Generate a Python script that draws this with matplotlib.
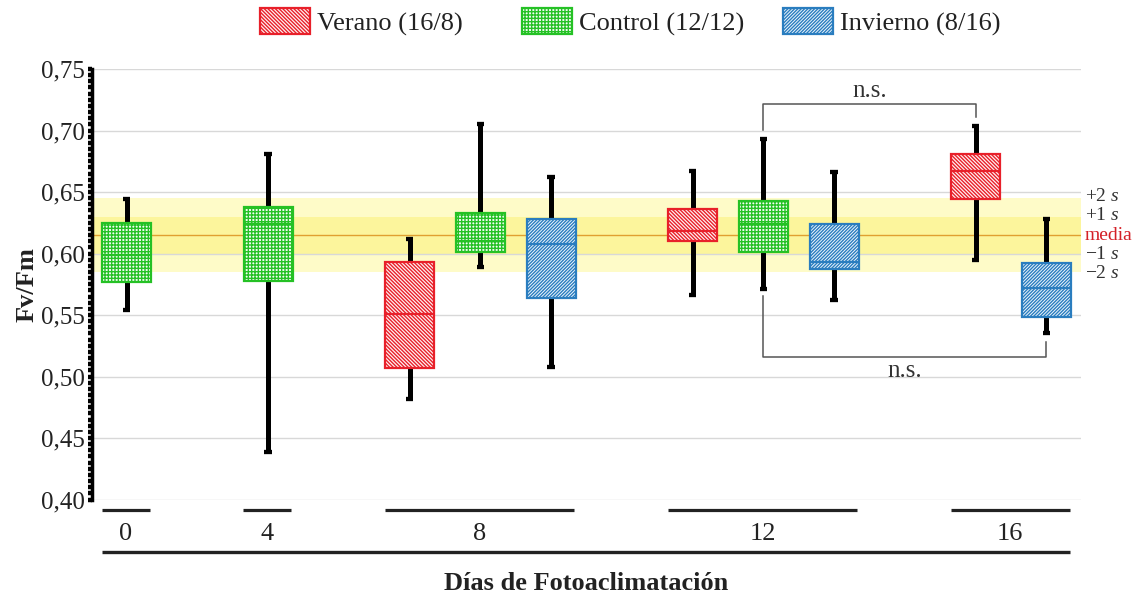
import matplotlib
matplotlib.use("Agg")
import matplotlib.pyplot as plt
from matplotlib.patches import Patch
from matplotlib.ticker import MultipleLocator, FuncFormatter
import matplotlib.transforms as mtransforms

# ---------------- data ----------------
days = ["0", "4", "8", "12", "16"]
treatments = ["Verano (16/8)", "Control (12/12)", "Invierno (8/16)"]
# treatments present for each day (index into treatments)
day_treatments = [[1], [1], [0, 1, 2], [0, 1, 2], [0, 2]]

# box statistics, in the order of the boxes (day by day, treatment by treatment)
whis_lo = [0.554, 0.439, 0.482, 0.589, 0.508, 0.566, 0.571, 0.562, 0.595, 0.535]
q1      = [0.577, 0.578, 0.507, 0.601, 0.564, 0.610, 0.601, 0.587, 0.644, 0.548]
median  = [0.599, 0.624, 0.551, 0.610, 0.608, 0.618, 0.624, 0.593, 0.667, 0.572]
q3      = [0.625, 0.638, 0.593, 0.633, 0.628, 0.636, 0.643, 0.624, 0.681, 0.592]
whis_hi = [0.644, 0.681, 0.612, 0.705, 0.662, 0.667, 0.693, 0.666, 0.704, 0.628]

ref_mean = 0.615
ref_sd = 0.015
yticks = [0.40, 0.45, 0.50, 0.55, 0.60, 0.65, 0.70, 0.75]

# ---------------- style ----------------
plt.rcParams["font.family"] = ["Liberation Serif", "DejaVu Serif"]
plt.rcParams["mathtext.fontset"] = "custom"
plt.rcParams["mathtext.rm"] = "Liberation Serif"
plt.rcParams["mathtext.it"] = "Liberation Serif:italic"
plt.rcParams["hatch.linewidth"] = 1.0

edge_cols = ["#e8202a", "#25c125", "#2a7dbf"]
face_cols = ["#fff2f2", "#f4fdf4", "#eef6fc"]
hatches = ["\\" * 9, "+++++", "/" * 10]

fig = plt.figure(figsize=(11.43, 5.98), dpi=100)
W, H = 1143, 598
ax_l, ax_r, ax_t, ax_b = 92, 1081, 69, 499.5
ax = fig.add_axes([ax_l / W, 1 - ax_b / H, (ax_r - ax_l) / W, (ax_b - ax_t) / H])

# positions: one empty slot between day groups
positions, box_treat, group_spans = [], [], []
slot = 0
for d, trs in zip(days, day_treatments):
    start = slot
    for t in trs:
        positions.append(slot)
        box_treat.append(t)
        slot += 1
    group_spans.append((start, slot - 1))
    slot += 1

# reference band
ax.axhspan(ref_mean - 2 * ref_sd, ref_mean + 2 * ref_sd, color="#fefbc8", zorder=0, lw=0)
ax.axhspan(ref_mean - ref_sd, ref_mean + ref_sd, color="#fcf59c", zorder=0.1, lw=0)
ax.axhline(ref_mean, color="#e0a030", lw=1.0, zorder=0.6)

ax.set_yticks(yticks)
ax.yaxis.grid(True, color="#d8d8d8", lw=1.0, zorder=0.5)
ax.set_axisbelow(True)

stats = []
for i in range(len(positions)):
    stats.append(dict(med=median[i], q1=q1[i], q3=q3[i], whislo=whis_lo[i], whishi=whis_hi[i]))

bp = ax.bxp(stats, positions=positions, widths=0.69, patch_artist=True, showfliers=False,
            capwidths=0.105,
            whiskerprops=dict(color="black", lw=3.6, solid_capstyle="butt"),
            capprops=dict(color="black", lw=3.1, solid_capstyle="butt"),
            boxprops=dict(lw=1.6), medianprops=dict(lw=1.6))
for i, b in enumerate(bp["boxes"]):
    t = box_treat[i]
    b.set_facecolor(face_cols[t])
    b.set_edgecolor(edge_cols[t])
    b.set_hatch(hatches[t])
    b.set_zorder(3)
    bp["medians"][i].set_color(edge_cols[t])
    bp["medians"][i].set_zorder(3.5)

ax.set_xlim(-0.49, 13.49)
ax.set_ylim(0.40, 0.75)

# axes styling
for s in ["top", "right", "bottom"]:
    ax.spines[s].set_visible(False)
ax.spines["left"].set_linewidth(2.5)
ax.spines["left"].set_color("black")
ax.set_xticks([])
ax.yaxis.set_minor_locator(MultipleLocator(0.005))
ax.tick_params(axis="y", which="minor", length=2.6, width=3.2, color="black", direction="out")
ax.tick_params(axis="y", which="major", length=3.2, width=3.2, color="black", direction="out",
               labelsize=18, pad=2, labelcolor="#222222")
ax.yaxis.set_major_formatter(FuncFormatter(lambda v, p: f"{v:.2f}".replace(".", ",")))

# group underlines and day labels
trans = mtransforms.blended_transform_factory(ax.transData, ax.transAxes)
for d, (s0, s1) in zip(days, group_spans):
    x0, x1 = s0 - 0.35, s1 + 0.33
    ax.plot([x0, x1], [-0.0237, -0.0237], transform=trans, color="#222222", lw=2.3,
            clip_on=False, solid_capstyle="butt")
    ax.text((x0 + x1) / 2, -0.079, d, transform=trans, ha="center", va="center",
            fontsize=19, color="#222222")
ax.plot([group_spans[0][0] - 0.35, group_spans[-1][1] + 0.33], [-0.1213, -0.1213],
        transform=trans, color="#222222", lw=2.4, clip_on=False, solid_capstyle="butt")

ax.text(0.5, -0.194, "Días de Fotoaclimatación", transform=ax.transAxes, ha="center",
        va="center", fontsize=19, fontweight="bold", color="#222222")
ax.text(-0.066, 0.5, "Fv/Fm", transform=ax.transAxes, ha="center", va="center",
        rotation=90, fontsize=19, fontweight="bold", color="#222222")

# reference labels on the right
transR = mtransforms.blended_transform_factory(ax.transAxes, ax.transData)
ref_labels = [(2, "+2 $s$", "#333333"), (1, "+1 $s$", "#333333"), (0, "media", "#d42027"),
              (-1, "−1 $s$", "#333333"), (-2, "−2 $s$", "#333333")]
for k, lab, col in ref_labels:
    ax.text(1.004, ref_mean + k * ref_sd * 1.05, lab, transform=transR,
            ha="left", va="center", fontsize=14, color=col, clip_on=False)

# significance brackets
bcol = "#555555"
# upper: Control d12 vs Verano d16
xa, xb = positions[6], positions[8]
ax.plot([xa, xa, xb, xb], [0.7004, 0.7213, 0.7213, 0.7112], color=bcol, lw=1.1, zorder=4)
ax.text((xa + xb) / 2, 0.7235, "n.s.", ha="center", va="bottom", fontsize=18, color="#333333")
# lower: Control d12 vs Invierno d16
xa, xb = positions[6], positions[9]
ax.plot([xa, xa, xb, xb], [0.5654, 0.5156, 0.5156, 0.5283], color=bcol, lw=1.1, zorder=4)
ax.text((xa + xb) / 2, 0.5047, "n.s.", ha="center", va="center", fontsize=18, color="#333333")

# legend (one per entry, evenly spaced like the reference)
leg_x = [259.5, 522, 783]
for t, lx in enumerate(leg_x):
    h = Patch(facecolor=face_cols[t], edgecolor=edge_cols[t], hatch=hatches[t], lw=1.6)
    fig.legend([h], [treatments[t]], loc="center left", bbox_to_anchor=(lx / W, 1 - 22 / H),
               frameon=False, fontsize=19, borderpad=0, borderaxespad=0,
               handlelength=1.9, handleheight=1.15, handletextpad=0.27,
               labelcolor="#222222")

fig.savefig("out.png", dpi=100)
